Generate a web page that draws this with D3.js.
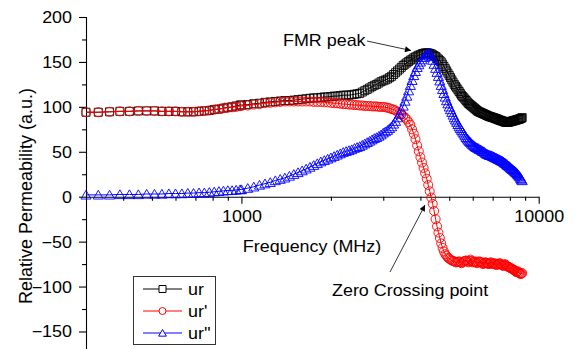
<!DOCTYPE html>
<html><head><meta charset="utf-8">
<script src="https://cdn.jsdelivr.net/npm/d3@7"></script>
<style>
html,body{margin:0;padding:0;background:#fff;}
svg text{font-family:"Liberation Sans",Arial,sans-serif;fill:#000;}
</style></head><body>
<svg id="chart" width="577" height="349"></svg>
<script>
// ---- data ----
const frequency = [
  300,330,360,390,420,450,480,510,540,570,600,630,660,690,720,750,780,810,840,870,900,930,960,990,
  1000,1050,1100,1150,1200,1250,1300,1350,1400,1450,1500,1550,1600,1650,1700,1750,1800,1850,1900,1950,
  2000,2050,2100,2150,2200,2250,2300,2350,2400,2450,2500,2550,2600,2650,2700,2750,2800,2850,2900,2950,
  3000,3050,3100,3150,3200,3250,3300,3350,3400,3450,3500,3550,3600,3650,3700,3750,3800,3850,3900,3950,
  4000,4050,4100,4150,4200,4250,4300,4350,4400,4450,4500,4550,4600,4650,4700,4750,4800,4850,4900,4950,
  5000,5050,5100,5150,5200,5250,5300,5350,5400,5450,5500,5550,5600,5650,5700,5750,5800,5850,5900,5950,
  6000,6050,6100,6150,6200,6250,6300,6350,6400,6450,6500,6550,6600,6650,6700,6750,6800,6850,6900,6950,
  7000,7050,7100,7150,7200,7250,7300,7350,7400,7450,7500,7550,7600,7650,7700,7750,7800,7850,7900,7950,
  8000,8050,8100,8150,8200,8250,8300,8350,8400,8450,8500,8550,8600,8650,8700,8750,8800
];
const ur = [
  94,94,94.5,95,95,95.5,95.5,95.5,95,95,95,94.5,94.5,94.5,95,95.5,96,97,97.5,98.5,99.5,100,101,102,
  102,102.5,103.5,104,105,105.5,106,106.5,107,107,107.5,108,108.5,109,109.5,110,110,110.5,111,111,
  111.5,112,112,112.5,113,113,113,113.5,114,114.5,115,116.5,118,119.5,121,122.5,124,125,126.5,128,
  129,130,131,132.5,134,136,138,140,142,144,146,147.5,149,150.5,152,153,154.5,155.5,156.5,157.5,
  158,159,159.5,160,160,160,159.5,159,158,157,156,154.5,153,151.5,150,147.5,145,142.5,140,137.5,
  135,132.5,130,127.5,125,123,121,119,117,115,113,111.5,110,108.5,107,105.5,104,103,102,101,
  100,99,98,97,96,95,94.5,94,93.5,93,92.5,92,91.5,91,90.5,90,89.5,89,89,88.5,
  88,88,87.5,87,86.5,86.5,86,85.5,85,85,84.5,84,84,83.5,83,83,83,83,83,83,
  83.5,83.5,84,84,84.5,84.5,85,85,85.5,85.5,86,86,86.5,86.5,87,87.5,88
];
const urPrime = [
  94,94,94.5,95,95,95.5,95.5,95.5,95,95,95,94.5,94.5,94.5,95,95.5,96,97,97.5,98.5,99,99.5,100,101,
  101,101.5,102.5,103,104,104.5,105,105.5,106,106,106,106,106,106,106,105.5,105.5,105.5,105,105,
  104.5,104,104,103.5,103,103,102.5,102.5,102,102,101.5,101.5,101,101,101,100.5,100.5,100.5,100,100,
  100,99.5,99,98.5,97.5,97,96,94.5,93,91.5,90,88,86,83,80,75,70,64,57,50.5,
  44,38,32,26,20,13,6,-1,-8,-16,-25,-33,-40,-46,-52,-57,-61,-64,-66,-68,
  -69,-70,-71,-71.5,-72,-73,-73,-72.5,-72,-73,-74,-73,-72,-71.5,-71,-72,-73,-71.5,-70,-71.5,
  -73,-72.5,-72,-73,-74,-73,-72,-72.5,-73,-74,-75,-74,-73,-73.5,-74,-74.5,-75,-74,-73,-74,
  -75,-74.5,-74,-75,-76,-75.5,-75,-74.5,-74,-75,-76,-76.5,-77,-76,-75,-76,-77,-77.5,-78,-78.5,
  -79,-79.5,-80,-80.5,-81,-81.5,-82,-83,-84,-83.5,-83,-84,-85,-85.5,-86,-85.5,-85
];
const urDouble = [
  2,2,2,2.5,2.5,2.5,3,3,3,3.5,3.5,3.5,4,4,4.5,4.5,5,5.5,6,6.5,7,7,7.5,8,
  8,9.5,11,13,14.5,16,18,19.5,21,23,25,27,29,31,33,35,37,39,40.5,42,
  43.5,45,46.5,48,49.5,50.5,51.5,52.5,54,55,56,57.5,59,60.5,62,63.5,65,66,67.5,69,
  71,72.5,74,76,78,81,84,88,92,96.5,101,106.5,112,118,124,129.5,135,139.5,144,147,
  150,152.5,155,157,158.5,159.5,160,156,152,147.5,143,138.5,134,129,124,119.5,115,111,107,103.5,
  100,97,94,91,88,85.5,83,80.5,78,76,74,72,70,68,66,64.5,63,61.5,60.5,59,
  58,57,56,55,54.5,54,53,52.5,52,51,50.5,50,49,48,47.5,47,46.5,46,46,45.5,
  45,44.5,44,43.5,43,42.5,42,41.5,41,40.5,40,39.5,39,38,37.5,37,36,35,34.5,34,
  33,32,31.5,30.5,30,29,28.5,27.5,27,26,25,24,23,22,20.5,19,18
];
const seriesNames = ["ur", "ur'", "ur''"];
const seriesColors = ["#000000", "#ff0000", "#0000ff"];
const seriesShapes = ["square", "circle", "triangle"];
const yMajorTicks = [-150,-100,-50,0,50,100,150,200];
const yMinorTicks = [-175,-125,-75,-25,25,75,125,175];
const xMajorTicks = [1000,10000];
const xMinorTicks = [400,500,600,700,800,900,2000,3000,4000,5000,6000,7000,8000,9000];
const xTitle = "Frequency (MHz)";
const yTitle = "Relative Permeability (a.u.)";

// ---- layout ----
const svg = d3.select("#chart");
const SX = 1.12;
const x = d3.scaleLog().domain([300,10000]).range([86,538.7]);
const y = d3.scaleLinear().domain([-200,200]).range([376.4,17]);

// y axis
const gy = svg.append("g").attr("transform","translate(86,0)");
gy.call(d3.axisLeft(y).tickValues(yMajorTicks).tickSize(7).tickSizeOuter(0));
gy.select(".domain").attr("d","M0.5,"+y(200)+"V349");
gy.selectAll(".tick text").attr("x",null).attr("dy",null)
  .attr("transform","translate(-14,5.5) scale("+SX+",1)")
  .style("font-size","16px").attr("fill","#000");
const gy2 = svg.append("g").attr("transform","translate(86,0)");
gy2.call(d3.axisLeft(y).tickValues(yMinorTicks).tickSize(4).tickFormat(""));
gy2.select(".domain").remove();

// x axis at y=0
const gx = svg.append("g").attr("transform","translate(0,"+y(0)+")");
gx.call(d3.axisBottom(x).tickValues(xMajorTicks).tickSize(7).tickSizeOuter(0).tickFormat(d3.format("d")));
gx.selectAll(".tick text").attr("y",null).attr("dy",null)
  .attr("transform","translate(0,25) scale("+SX+",1)")
  .style("font-size","16px").attr("fill","#000");
const gx2 = svg.append("g").attr("transform","translate(0,"+y(0)+")");
gx2.call(d3.axisBottom(x).tickValues(xMinorTicks).tickSize(4).tickFormat(""));
gx2.select(".domain").remove();
svg.selectAll(".domain,.tick line").attr("stroke","#000").attr("stroke-width",1.1);

// titles
svg.append("text").attr("transform","translate(312,252) scale("+SX+",1)")
  .attr("text-anchor","middle").style("font-size","16px").text(xTitle);
svg.append("text").attr("transform","translate(32,196) rotate(-90)")
  .attr("text-anchor","middle").style("font-size","18px").text(yTitle);

// marker shapes
function shapePath(shape, s){
  if(shape==="square") return `M${-s},${-s}H${s}V${s}H${-s}Z`;
  if(shape==="circle") return `M${-s},0A${s},${s} 0 1,0 ${s},0A${s},${s} 0 1,0 ${-s},0Z`;
  return `M0,${-s}L${s*1.1},${s*0.9}L${-s*1.1},${s*0.9}Z`;
}

// series
const allSeries = [ur, urPrime, urDouble];
const line = d3.line().x(d=>x(d[0])).y(d=>y(d[1]));
const sizes = [4, 4.5, 4.6];
allSeries.forEach((vals,i)=>{
  const pts = frequency.map((f,j)=>[f, vals[j]]);
  const g = svg.append("g");
  g.append("path").attr("d",line(pts)).attr("fill","none")
    .attr("stroke",seriesColors[i]).attr("stroke-width",1);
  g.selectAll("path.m").data(pts).join("path").attr("class","m")
    .attr("transform",d=>`translate(${x(d[0])},${y(d[1])})`)
    .attr("d",shapePath(seriesShapes[i], sizes[i]))
    .attr("fill","none").attr("stroke",seriesColors[i]).attr("stroke-width",0.9);
});

// legend
const lg = svg.append("g");
lg.append("rect").attr("x",133.5).attr("y",276.5).attr("width",82).attr("height",68)
  .attr("fill","#fff").attr("stroke","#333").attr("stroke-width",1);
seriesNames.forEach((name,i)=>{
  const cy = 289 + i*22;
  lg.append("line").attr("x1",143).attr("x2",182).attr("y1",cy).attr("y2",cy)
    .attr("stroke",seriesColors[i]).attr("stroke-width",1);
  lg.append("path").attr("transform",`translate(162.5,${cy})`)
    .attr("d",shapePath(seriesShapes[i], 3.5)).attr("fill","#fff")
    .attr("stroke",seriesColors[i]).attr("stroke-width",1);
  lg.append("text").attr("transform",`translate(188,${cy+6}) scale(${SX},1)`)
    .style("font-size","16px").text(name);
});

// annotations
const defs = svg.append("defs");
defs.append("marker").attr("id","arrow").attr("viewBox","0 0 10 10")
  .attr("refX",10).attr("refY",5).attr("markerWidth",8).attr("markerHeight",6)
  .attr("orient","auto").attr("markerUnits","userSpaceOnUse")
  .append("path").attr("d","M0,0L10,5L0,10Z").attr("fill","#000");
svg.append("text").attr("transform",`translate(283,46) scale(${SX},1)`)
  .style("font-size","16px").text("FMR peak");
svg.append("line").attr("x1",367).attr("y1",41).attr("x2",411).attr("y2",50.5)
  .attr("stroke","#000").attr("stroke-width",0.8).attr("marker-end","url(#arrow)");
svg.append("text").attr("transform",`translate(332,296) scale(${SX},1)`)
  .style("font-size","16px").text("Zero Crossing point");
svg.append("line").attr("x1",390).attr("y1",272).attr("x2",425).attr("y2",205)
  .attr("stroke","#000").attr("stroke-width",0.8).attr("marker-end","url(#arrow)");
</script>
</body></html>
